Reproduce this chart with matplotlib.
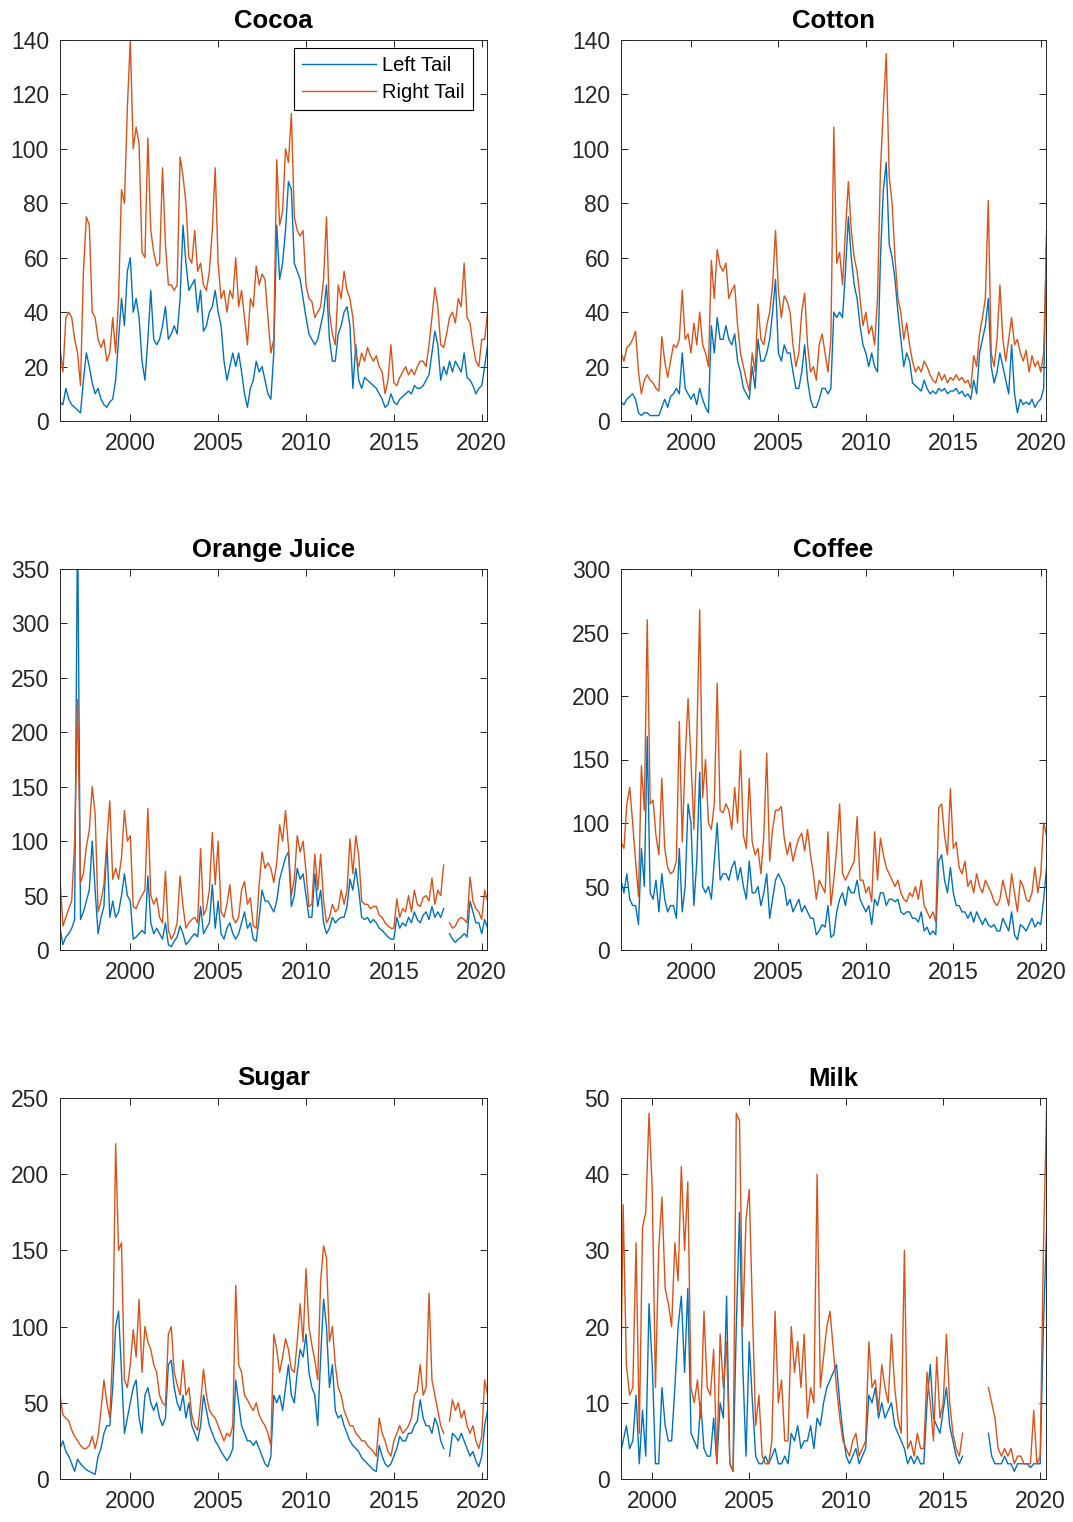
import numpy as np
import matplotlib.pyplot as plt

nan = np.nan

# values every two months (Jan, Mar, May, Jul, Sep, Nov), one row per year
cocoa_left = [
    7, 6, 12, 8, 6, 5,          # 1996
    4, 3, 15, 25, 20, 14,       # 1997
    10, 12, 8, 6, 5, 7,         # 1998
    8, 15, 30, 45, 35, 55,      # 1999
    60, 40, 45, 38, 22, 15,     # 2000
    30, 48, 30, 28, 30, 35,     # 2001
    42, 30, 32, 35, 32, 45,     # 2002
    72, 58, 48, 50, 52, 40,     # 2003
    48, 33, 35, 40, 42, 48,     # 2004
    40, 35, 22, 15, 20, 25,     # 2005
    20, 25, 18, 10, 5, 12,      # 2006
    15, 22, 18, 20, 15, 10,     # 2007
    8, 25, 72, 52, 58, 70,      # 2008
    88, 85, 58, 55, 52, 45,     # 2009
    38, 32, 30, 28, 30, 35,     # 2010
    40, 50, 30, 22, 22, 32,     # 2011
    35, 40, 42, 35, 12, 28,     # 2012
    15, 12, 16, 15, 14, 13,     # 2013
    12, 10, 8, 5, 6, 10,        # 2014
    7, 6, 8, 9, 10, 11,         # 2015
    10, 13, 12, 12, 13, 15,     # 2016
    17, 25, 33, 28, 15, 20,     # 2017
    17, 22, 18, 22, 20, 18,     # 2018
    25, 16, 15, 13, 10, 12,     # 2019
    13, 20, 28]                 # 2020
cocoa_right = [
    27, 18, 38, 40, 38, 30,
    25, 13, 55, 75, 72, 40,
    38, 30, 27, 30, 22, 25,
    38, 25, 45, 85, 80, 115,
    140, 100, 108, 102, 62, 60,
    104, 70, 62, 57, 58, 93,
    65, 50, 50, 48, 50, 97,
    90, 80, 60, 58, 70, 55,
    58, 50, 48, 55, 70, 93,
    58, 45, 48, 40, 48, 45,
    60, 42, 48, 38, 28, 45,
    42, 57, 50, 54, 52, 38,
    25, 30, 96, 72, 77, 100,
    95, 113, 75, 70, 68, 70,
    50, 45, 44, 38, 40, 42,
    52, 75, 40, 32, 28, 50,
    45, 55, 48, 45, 38, 24,
    20, 25, 22, 27, 24, 22,
    24, 20, 18, 10, 15, 28,
    14, 13, 16, 18, 20, 17,
    19, 17, 20, 22, 22, 20,
    28, 38, 49, 42, 28, 27,
    32, 38, 40, 36, 45, 42,
    58, 38, 36, 28, 22, 20,
    30, 30, 40]

cotton_left = [
    7, 6, 8, 9, 10, 8,
    3, 2, 3, 3, 2, 2,
    2, 2, 5, 8, 5, 9,
    10, 12, 10, 25, 12, 10,
    8, 10, 6, 12, 8, 5,
    3, 35, 25, 38, 30, 30,
    35, 30, 28, 32, 22, 18,
    12, 10, 8, 20, 12, 30,
    22, 22, 25, 30, 40, 52,
    25, 22, 28, 25, 25, 18,
    12, 12, 18, 28, 15, 8,
    5, 5, 8, 12, 12, 10,
    12, 40, 38, 40, 38, 55,
    75, 60, 50, 45, 35, 28,
    25, 20, 25, 20, 18, 60,
    85, 95, 65, 60, 52, 40,
    30, 20, 25, 22, 14, 13,
    12, 11, 15, 12, 10, 11,
    10, 12, 11, 12, 10, 11,
    11, 12, 10, 11, 9, 10,
    8, 15, 10, 25, 30, 35,
    45, 20, 14, 18, 25, 20,
    15, 10, 28, 10, 3, 8,
    6, 7, 6, 8, 5, 7,
    8, 12, 70]
cotton_right = [
    25, 22, 27, 28, 30, 33,
    18, 10, 15, 17, 15, 14,
    12, 11, 31, 22, 16, 22,
    28, 27, 30, 48, 30, 32,
    25, 36, 28, 40, 28, 25,
    20, 59, 45, 63, 57, 55,
    58, 45, 48, 50, 35, 25,
    20, 15, 11, 25, 18, 43,
    30, 28, 35, 40, 50, 70,
    48, 38, 46, 44, 40, 28,
    20, 25, 40, 47, 28, 18,
    20, 15, 28, 32, 25, 18,
    30, 108, 58, 62, 50, 70,
    88, 70, 60, 55, 45, 35,
    40, 32, 35, 28, 45, 92,
    115, 135, 90, 80, 60, 45,
    40, 30, 36, 28, 22, 18,
    20, 18, 22, 20, 17, 15,
    14, 18, 15, 17, 14, 16,
    15, 17, 15, 16, 14, 15,
    12, 24, 20, 32, 38, 45,
    81, 25, 20, 30, 50, 30,
    22, 30, 38, 28, 30, 25,
    22, 26, 18, 24, 20, 22,
    18, 25, 67]

oj_left = [
    20, 5, 12, 15, 20, 28,
    400, 28, 35, 45, 55, 100,
    55, 15, 30, 40, 100, 30,
    45, 30, 35, 50, 70, 50,
    45, 10, 12, 15, 18, 15,
    68, 25, 15, 20, 15, 10,
    25, 5, 3, 8, 12, 22,
    15, 5, 8, 12, 15, 12,
    40, 15, 20, 25, 60, 20,
    45, 15, 10, 20, 25, 15,
    10, 15, 25, 35, 20, 25,
    10, 8, 30, 55, 45, 45,
    40, 35, 45, 65, 75, 85,
    90, 40, 50, 75, 65, 70,
    50, 30, 30, 70, 40, 55,
    25, 15, 20, 30, 25, 28,
    30, 30, 40, 65, 55, 75,
    55, 30, 28, 30, 25, 28,
    25, 20, 18, 15, 12, 10,
    10, 30, 20, 25, 22, 30,
    25, 35, 28, 25, 32, 35,
    28, 40, 30, 35, 30, 38,
    nan, 15, 10, 7, 10, 12,
    15, 12, 45, 35, 25, 25,
    15, 28, 20]
oj_right = [
    65, 22, 30, 38, 45, 100,
    230, 62, 70, 95, 110, 150,
    125, 35, 45, 60, 100, 137,
    65, 75, 65, 85, 128, 100,
    105, 40, 38, 45, 50, 55,
    130, 50, 42, 48, 30, 25,
    72, 18, 10, 15, 25, 68,
    40, 20, 25, 28, 30, 25,
    93, 32, 38, 55, 108, 60,
    100, 35, 30, 42, 60, 30,
    25, 30, 55, 63, 42, 48,
    22, 20, 60, 90, 75, 80,
    75, 62, 80, 115, 100, 128,
    95, 50, 65, 105, 90, 100,
    72, 40, 42, 88, 55, 88,
    45, 25, 30, 42, 35, 38,
    55, 42, 55, 102, 70, 105,
    87, 45, 42, 42, 38, 40,
    40, 32, 30, 25, 22, 20,
    20, 47, 30, 38, 35, 50,
    35, 55, 42, 40, 48, 50,
    45, 66, 42, 55, 50, 78,
    nan, 25, 20, 22, 28, 30,
    28, 25, 67, 45, 38, 35,
    28, 55, 45]

coffee_left = [
    55, 45, 60, 40, 35, 35,
    20, 80, 50, 168, 45, 40,
    55, 30, 60, 40, 30, 35,
    35, 25, 80, 30, 50, 115,
    100, 35, 70, 140, 50, 45,
    50, 40, 70, 100, 55, 60,
    60, 55, 65, 70, 55, 65,
    50, 40, 70, 45, 45, 50,
    35, 45, 60, 25, 40, 55,
    60, 55, 50, 35, 40, 30,
    35, 40, 30, 35, 30, 25,
    25, 12, 15, 20, 18, 35,
    10, 12, 30, 40, 45, 35,
    50, 45, 45, 55, 40, 35,
    30, 35, 20, 40, 35, 45,
    45, 35, 40, 40, 38, 40,
    30, 28, 30, 30, 25, 25,
    22, 30, 15, 18, 12, 15,
    12, 70, 75, 55, 45, 65,
    45, 35, 35, 30, 30, 25,
    30, 22, 30, 25, 20, 25,
    20, 18, 20, 15, 15, 25,
    20, 15, 30, 12, 8, 20,
    18, 15, 20, 25, 18, 22,
    20, 40, 65]
coffee_right = [
    85, 80, 115, 128, 100, 70,
    42, 145, 110, 260, 115, 118,
    90, 75, 135, 80, 65, 60,
    62, 70, 180, 85, 150, 198,
    150, 95, 165, 268, 120, 150,
    100, 95, 115, 210, 110, 108,
    115, 110, 95, 128, 100, 157,
    90, 80, 135, 85, 75, 80,
    60, 90, 155, 70, 95, 110,
    110, 113, 88, 75, 85, 70,
    80, 88, 92, 78, 95, 75,
    60, 40, 55, 50, 45, 93,
    35, 55, 80, 115, 60, 55,
    60, 65, 70, 105, 55, 55,
    45, 50, 38, 93, 55, 88,
    75, 65, 60, 55, 50, 55,
    45, 40, 38, 45, 42, 50,
    40, 55, 35, 30, 25, 30,
    22, 112, 115, 90, 75, 127,
    80, 85, 65, 60, 70, 50,
    55, 45, 60, 50, 45, 55,
    50, 45, 38, 35, 40, 55,
    45, 35, 60, 45, 30, 55,
    50, 40, 38, 45, 65, 45,
    60, 100, 90]

sugar_left = [
    20, 25, 18, 15, 10, 5,
    13, 10, 8, 6, 5, 4,
    3, 15, 20, 30, 35, 35,
    60, 100, 110, 70, 30, 40,
    50, 60, 65, 40, 30, 55,
    60, 50, 45, 50, 40, 35,
    40, 75, 78, 60, 50, 45,
    55, 40, 50, 35, 30, 25,
    35, 55, 45, 35, 30, 25,
    22, 18, 15, 12, 15, 20,
    65, 50, 35, 30, 25, 25,
    22, 25, 20, 15, 10, 8,
    15, 55, 50, 55, 45, 60,
    75, 55, 50, 70, 85, 80,
    95, 70, 60, 55, 35, 80,
    118, 100, 60, 75, 45, 40,
    42, 35, 30, 25, 22, 20,
    18, 14, 12, 10, 8, 6,
    5, 22, 15, 10, 8, 10,
    15, 20, 28, 25, 25, 30,
    30, 35, 38, 52, 40, 35,
    35, 30, 40, 35, 25, 20,
    nan, 15, 30, 28, 25, 30,
    25, 20, 15, 18, 12, 8,
    15, 35, 45]
sugar_right = [
    55, 42, 40, 38, 32, 28,
    25, 22, 20, 20, 22, 28,
    20, 28, 45, 65, 50, 40,
    85, 220, 150, 155, 65, 60,
    75, 98, 80, 118, 70, 100,
    90, 85, 75, 70, 55, 50,
    48, 95, 100, 70, 62, 55,
    78, 55, 60, 42, 35, 32,
    50, 72, 55, 45, 42, 40,
    35, 30, 25, 30, 28, 35,
    127, 75, 70, 55, 52, 48,
    45, 50, 42, 38, 35, 30,
    22, 95, 85, 70, 80, 92,
    85, 72, 70, 90, 115, 90,
    138, 100, 88, 78, 65, 130,
    153, 145, 90, 100, 75, 60,
    55, 45, 40, 35, 35, 30,
    28, 25, 25, 22, 20, 18,
    15, 40, 30, 25, 18, 15,
    25, 30, 35, 30, 32, 35,
    40, 55, 58, 75, 55, 60,
    122, 65, 55, 45, 35, 30,
    nan, 38, 52, 45, 50, 40,
    45, 35, 30, 35, 25, 20,
    28, 65, 55]

# milk starts May 1998
milk_left = [
    3, 5, 7, 4,
    5, 11, 2, 9, 3, 23,
    15, 2, 2, 12, 7, 5,
    5, 12, 20, 24, 14, 25,
    6, 5, 4, 10, 4, 3,
    3, 8, 2, 10, 8, 24,
    2, 1, 20, 35, 15, 3,
    18, 10, 3, 2, 2, 3,
    2, 3, 4, 2, 2, 3,
    2, 6, 5, 7, 4, 5,
    5, 7, 4, 8, 7, 10,
    12, 13, 14, 15, 10, 6,
    3, 2, 3, 4, 2, 3,
    4, 11, 10, 12, 8, 10,
    8, 9, 10, 7, 6, 5,
    4, 2, 3, 2, 3, 2,
    2, 10, 15, 8, 7, 6,
    9, 12, 7, 5, 3, 2,
    3, nan, nan, nan, nan, nan,
    nan, nan, 6, 3, 2, 2,
    2, 3, 2, 2, 1, 2,
    2, 2, 2, 1.5, 2, 2,
    2, 20, 33]
milk_right = [
    3, 36, 15, 11,
    12, 31, 6, 33, 35, 48,
    38, 12, 30, 37, 25, 23,
    20, 31, 26, 41, 30, 39,
    12, 10, 13, 8, 22, 12,
    11, 17, 2, 19, 12, 18,
    2, 1, 48, 47, 20, 34,
    38, 22, 7, 11, 3, 2,
    2, 5, 22, 10, 13, 5,
    5, 20, 14, 18, 12, 19,
    8, 12, 10, 40, 12, 16,
    20, 22, 17, 12, 8, 5,
    4, 3, 5, 6, 3, 4,
    5, 18, 12, 13, 9, 15,
    12, 10, 19, 12, 8, 6,
    30, 4, 5, 3, 6, 4,
    4, 14, 10, 5, 16, 8,
    10, 19, 10, 6, 4, 3,
    6, nan, nan, nan, nan, nan,
    nan, nan, 12, 10, 8, 4,
    3, 4, 3, 4, 2, 3,
    3, 2, 2, 2, 9, 2,
    3, 30, 49]

# name, left, right, first date, first x shown, ymax, ystep
panels = [
    ('Cocoa', cocoa_left, cocoa_right, 1996.0, 1996.0, 140, 20),
    ('Cotton', cotton_left, cotton_right, 1996.0, 1996.0, 140, 20),
    ('Orange Juice', oj_left, oj_right, 1996.0, 1996.0, 350, 50),
    ('Coffee', coffee_left, coffee_right, 1996.0, 1996.0, 300, 50),
    ('Sugar', sugar_left, sugar_right, 1996.0, 1996.0, 250, 50),
    ('Milk', milk_left, milk_right, 1998 + 1/3, 1998.39, 50, 10),
]

plt.rcParams['font.family'] = ['Liberation Sans', 'DejaVu Sans']
blue = '#0072BD'
orange = '#D95319'
grey = '#262626'

W, H = 1073, 1522
fig = plt.figure(figsize=(W / 100, H / 100), dpi=100)

# axes boxes in pixels (left, top, right, bottom)
col_x = [(60, 487), (621, 1046)]
row_y = [40, 569, 1098]
box_h = 381

for k, (name, left, right, start, x0, ymax, ystep) in enumerate(panels):
    xl, xr = col_x[k % 2]
    yt = row_y[k // 2]
    ax = fig.add_axes([xl / W, 1 - (yt + box_h) / H, (xr - xl) / W, box_h / H])

    xs_l = start + np.arange(len(left)) / 6
    xs_r = start + np.arange(len(right)) / 6
    ax.plot(xs_l, left, color=blue, lw=1.0, label='Left Tail')
    ax.plot(xs_r, right, color=orange, lw=1.0, label='Right Tail')

    ax.set_xlim(x0, 2020.3)
    ax.set_ylim(0, ymax)
    ax.set_xticks([2000, 2005, 2010, 2015, 2020])
    ax.set_yticks(np.arange(0, ymax + 1, ystep))
    ax.tick_params(direction='in', top=True, right=True, length=5, width=0.7,
                   colors=grey, labelsize=16.5, pad=8)
    for s in ax.spines.values():
        s.set_color(grey)
        s.set_linewidth(0.7)
    ax.set_title(name, fontsize=18.5, fontweight='bold', pad=9)

    if k == 0:
        leg = ax.legend(loc='upper right', bbox_to_anchor=(0.967, 0.979),
                        borderaxespad=0, fontsize=14.5, handlelength=3.7,
                        handletextpad=0.3, labelspacing=0.4, borderpad=0.4,
                        fancybox=False, framealpha=1, edgecolor='black')
        leg.get_frame().set_linewidth(0.8)

fig.savefig('out.png', dpi=100)
